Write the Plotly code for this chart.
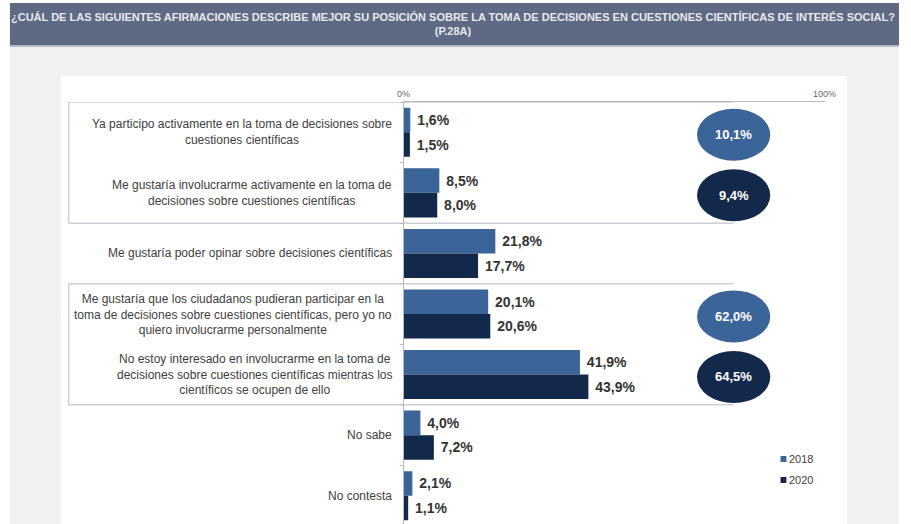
import plotly.graph_objects as go

# Survey answers (P.28A), share of respondents in %
categories = [
    "Ya participo activamente en la toma de decisiones sobre<br>cuestiones científicas",
    "Me gustaría involucrarme activamente en la toma de<br>decisiones sobre cuestiones científicas",
    "Me gustaría poder opinar sobre decisiones científicas",
    "Me gustaría que los ciudadanos pudieran participar en la<br>toma de decisiones sobre cuestiones científicas, pero yo no<br>quiero involucrarme personalmente",
    "No estoy interesado en involucrarme en la toma de<br>decisiones sobre cuestiones científicas mientras los<br>científicos se ocupen de ello",
    "No sabe",
    "No contesta",
]
values_2018 = [1.6, 8.5, 21.8, 20.1, 41.9, 4.0, 2.1]
values_2020 = [1.5, 8.0, 17.7, 20.6, 43.9, 7.2, 1.1]
years = ["2018", "2020"]

# Grouped totals shown in the ovals (category groups 0-1 and 3-4)
group_members = [[0, 1], [3, 4]]
group_totals_2018 = [10.1, 62.0]
group_totals_2020 = [9.4, 64.5]

x_ticks = [0, 100]
x_tick_labels = ["0%", "100%"]

W, H = 911, 524
C2018 = "#3b6599"
C2020 = "#13294b"
FONT = "Liberation Sans, Arial, sans-serif"
TXT = "#404040"


def px_x(p):
    return p / W


def px_y(p):
    return 1 - p / H


fig = go.Figure()
for name, vals, col in [(years[0], values_2018, C2018), (years[1], values_2020, C2020)]:
    fig.add_trace(go.Bar(
        name=name, y=categories, x=vals, orientation="h",
        marker=dict(color=col, line=dict(width=0)),
        texttemplate=" %{x:.1f}%", textposition="outside",
        textfont=dict(family=FONT, size=14, color="#333333", weight="bold"),
        cliponaxis=False, showlegend=False, hoverinfo="skip",
    ))

shapes = [
    # page background pieces
    dict(type="rect", xref="paper", yref="paper", x0=px_x(3), x1=1, y0=px_y(45), y1=px_y(3),
         fillcolor="#5e6a83", line_width=0, layer="below"),
    dict(type="rect", xref="paper", yref="paper", x0=px_x(3), x1=1, y0=px_y(47), y1=px_y(45),
         fillcolor="#b3bac8", line_width=0, layer="below"),
    dict(type="rect", xref="paper", yref="paper", x0=px_x(3), x1=1, y0=0, y1=px_y(47),
         fillcolor="#f1f1f1", line_width=0, layer="below"),
    dict(type="rect", xref="paper", yref="paper", x0=px_x(55), x1=px_x(858), y0=0, y1=px_y(76),
         fillcolor="#ffffff", line_width=0, layer="below"),
]

# Frames around the two grouped answer blocks
box_color = "#cdd0d8"
for y_top, y_bot in [(-0.5, 1.5), (2.5, 4.5)]:
    for xa, xb, ya, yb in [(63, 742, y_top, y_top), (63, 742, y_bot, y_bot), (63, 63, y_top, y_bot)]:
        shapes.append(dict(type="line", xref="paper", yref="y", x0=px_x(xa), x1=px_x(xb),
                           y0=ya, y1=yb, line=dict(color=box_color, width=1.5), layer="below"))

annotations = []
# Ovals with group totals
oval_x, oval_hw, oval_hh = 78.4, 8.7, 0.43
for members, t18, t20 in zip(group_members, group_totals_2018, group_totals_2020):
    for idx, tot, col in [(members[0], t18, C2018), (members[1], t20, C2020)]:
        yc = idx + 0.04
        shapes.append(dict(type="circle", xref="x", yref="y",
                           x0=oval_x - oval_hw, x1=oval_x + oval_hw,
                           y0=yc - oval_hh, y1=yc + oval_hh,
                           fillcolor=col, line_width=0, layer="above"))
        annotations.append(dict(x=oval_x, y=yc, xref="x", yref="y", showarrow=False,
                                yanchor="middle",
                                text=f"{tot:.1f}%".replace(".", ","),
                                font=dict(family=FONT, size=13, color="#ffffff", weight="bold")))

# Category labels
for i, c in enumerate(categories):
    annotations.append(dict(x=px_x(395), y=i, xref="paper", yref="y", xanchor="right",
                            yanchor="middle", align="center", showarrow=False, text=c,
                            font=dict(family=FONT, size=12, color=TXT)))

# Header title
annotations.append(dict(
    x=0.5, y=px_y(24), xref="paper", yref="paper", showarrow=False, align="center",
    yanchor="middle",
    text="¿CUÁL DE LAS SIGUIENTES AFIRMACIONES DESCRIBE MEJOR SU POSICIÓN SOBRE LA TOMA DE "
         "DECISIONES EN CUESTIONES CIENTÍFICAS DE INTERÉS SOCIAL?<br>(P.28A)",
    font=dict(family=FONT, size=11, color="#e6e8ee", weight="bold"),
))

# Legend
for yy, name, col in [(459, years[0], C2018), (480, years[1], C2020)]:
    shapes.append(dict(type="rect", xref="paper", yref="paper",
                       x0=px_x(790), x1=px_x(796), y0=px_y(yy + 3), y1=px_y(yy - 3),
                       fillcolor=col, line_width=0))
    annotations.append(dict(x=px_x(797), y=px_y(yy), xref="paper", yref="paper",
                            xanchor="left", yanchor="middle", showarrow=False, text=name,
                            font=dict(family=FONT, size=11, color=TXT)))

fig.update_layout(
    width=W, height=H, margin=dict(l=0, r=0, t=0, b=0),
    paper_bgcolor="#ffffff", plot_bgcolor="rgba(0,0,0,0)",
    separators=",.",
    barmode="group", bargap=0.19, bargroupgap=0,
    font=dict(family=FONT, color=TXT),
    shapes=shapes, annotations=annotations,
    xaxis=dict(domain=[px_x(405), px_x(835)], range=[0, 100], side="top",
               tickvals=x_ticks, ticktext=x_tick_labels, showgrid=False, zeroline=False,
               showline=True, linecolor="#b8b8b8", linewidth=1,
               ticks="inside", ticklen=3, tickcolor="#b8b8b8",
               tickfont=dict(family=FONT, size=9, color="#666666")),
    yaxis=dict(domain=[0, px_y(102)], range=[6.467, -0.5], type="category",
               categoryorder="array", categoryarray=categories,
               showticklabels=False, showgrid=False, zeroline=False,
               showline=True, linecolor="#b8b8b8", linewidth=1,
               ticks="outside", tickson="boundaries", ticklen=3, tickcolor="#b8b8b8"),
)

fig.write_html("out.html")
